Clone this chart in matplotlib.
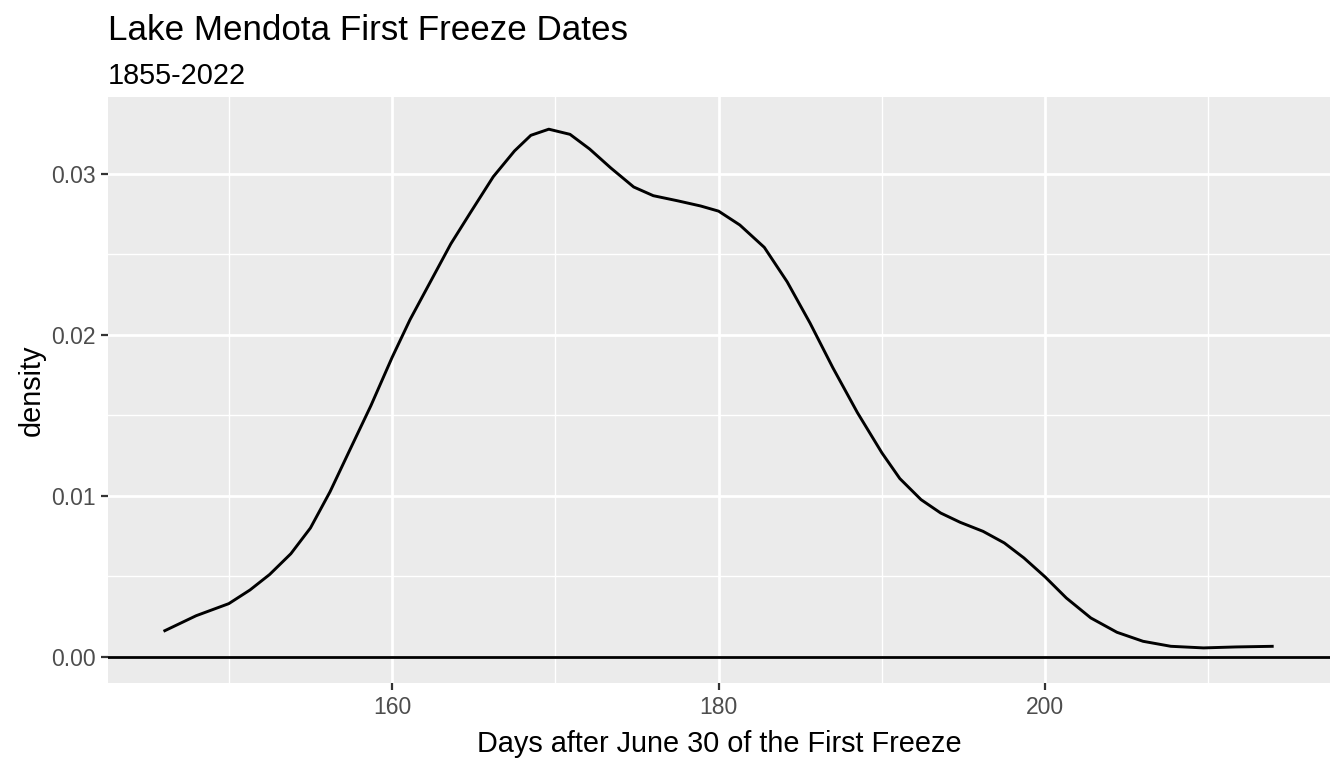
import matplotlib
matplotlib.use("Agg")
import matplotlib.pyplot as plt
from matplotlib.ticker import FixedLocator

plt.rcParams['font.family'] = ['Liberation Sans', 'DejaVu Sans']

# Data (kernel density of first-freeze day)
days = [146.0, 148.0, 150.0, 151.3, 152.5, 153.8, 155.0, 156.2, 157.4, 158.7,
        160.0, 161.1, 162.4, 163.6, 164.8, 166.2, 167.5, 168.5, 169.6, 170.9,
        172.1, 173.4, 174.8, 176.0, 177.5, 178.9, 180.0, 181.3, 182.8, 184.2,
        185.6, 187.0, 188.5, 190.0, 191.1, 192.4, 193.6, 194.8, 196.2, 197.5,
        198.7, 200.0, 201.3, 202.8, 204.4, 206.0, 207.7, 209.7, 211.7, 214.0]
density = [0.00159, 0.00256, 0.00331, 0.00416, 0.00512, 0.00641, 0.00801, 0.01026, 0.01283, 0.0156,
           0.0186, 0.02095, 0.0234, 0.02566, 0.0276, 0.02983, 0.03143, 0.0324, 0.03278, 0.03246,
           0.03155, 0.03037, 0.02919, 0.02865, 0.02833, 0.02801, 0.02769, 0.02683, 0.02544, 0.0233,
           0.02074, 0.01796, 0.01518, 0.01268, 0.01108, 0.00977, 0.00894, 0.00836, 0.0078, 0.00708,
           0.00615, 0.00497, 0.00366, 0.00242, 0.00153, 0.00097, 0.00066, 0.00056, 0.00062, 0.00066]

x_ticks = [160, 180, 200]
x_minor = [150, 170, 190, 210]
y_ticks = [0.00, 0.01, 0.02, 0.03]
y_minor = [0.005, 0.015, 0.025]
y_labels = ["0.00", "0.01", "0.02", "0.03"]

title = "Lake Mendota First Freeze Dates"
subtitle = "1855-2022"
xlabel = "Days after June 30 of the First Freeze"
ylabel = "density"

W, H = 1344, 768
fig = plt.figure(figsize=(W / 100, H / 100), dpi=100)
left, right, top, bottom = 108, 1330, 97, 683
ax = fig.add_axes([left / W, 1 - bottom / H, (right - left) / W, (bottom - top) / H])
ax.set_facecolor('#EBEBEB')
for s in ax.spines.values():
    s.set_visible(False)

ax.set_xlim(142.6, 217.45)
ax.set_ylim(-0.00162, 0.03478)

ax.xaxis.set_major_locator(FixedLocator(x_ticks))
ax.xaxis.set_minor_locator(FixedLocator(x_minor))
ax.yaxis.set_major_locator(FixedLocator(y_ticks))
ax.yaxis.set_minor_locator(FixedLocator(y_minor))
ax.set_yticklabels(y_labels)
ax.set_xticklabels([str(t) for t in x_ticks])

ax.grid(which='major', color='white', linewidth=2.0)
ax.grid(which='minor', color='white', linewidth=1.0)
ax.set_axisbelow(True)

ax.tick_params(which='major', length=5, width=1.6, color='#333333',
               labelsize=16.5, labelcolor='#4D4D4D', pad=4)
ax.tick_params(which='minor', length=0)

ax.axhline(0, color='black', linewidth=2.0, zorder=2)
ax.plot(days, density, color='black', linewidth=2.1, zorder=3,
        solid_joinstyle='round', solid_capstyle='butt')

ax.set_xlabel(xlabel, fontsize=20.8, color='black', labelpad=8)
ax.set_ylabel(ylabel, fontsize=20.8, color='black', labelpad=4)

fig.text(left / W, 1 - 31 / H, title, fontsize=25.2, color='black', ha='left', va='center')
fig.text(left / W, 1 - 76 / H, subtitle, fontsize=20.8, color='black', ha='left', va='center')

fig.savefig('out.png', dpi=100, facecolor='white')
